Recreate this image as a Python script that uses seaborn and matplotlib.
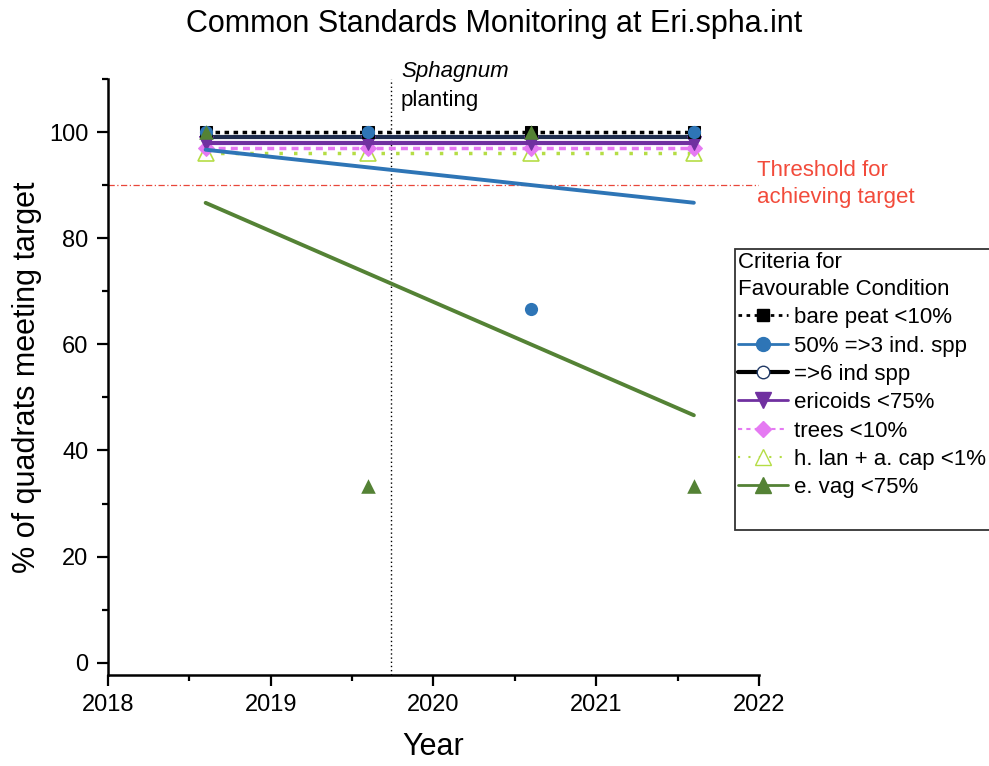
import matplotlib
matplotlib.use("Agg")
import matplotlib.pyplot as plt
from matplotlib.lines import Line2D
from matplotlib.ticker import MultipleLocator
import seaborn as sns

# survey years (mid-year visits)
years = [2018.6, 2019.6, 2020.6, 2021.6]

# % of quadrats meeting each target (constant series are offset in the original for visibility)
bare_peat = [100, 100, 100, 100]
ind_spp_3 = [100, 100, 66.7, 100]
ind_spp_6 = [99, 99, 99, 99]
ericoids = [98, 98, 98, 98]
trees = [97, 97, 97, 97]
hlan_acap = [96, 96, 96, 96]
e_vag = [100, 33.3, 100, 33.3]

labels = ["bare peat <10%", "50% =>3 ind. spp", "=>6 ind spp", "ericoids <75%",
          "trees <10%", "h. lan + a. cap <1%", "e. vag <75%"]

threshold = 90
planting_year = 2019.74

sns.set_theme(style="ticks")
plt.rcParams['font.family'] = ['Liberation Sans', 'DejaVu Sans']
plt.rcParams['text.color'] = 'black'
plt.rcParams['axes.labelcolor'] = 'black'

fig = plt.figure(figsize=(9.89, 7.66), dpi=100)
ax = fig.add_axes([0.1092, 0.1188, 0.6582, 0.7781])

c_blue = "#2E75B6"
c_navy = "#1F2D4F"
c_purple = "#7030A0"
c_pink = "#E57AF2"
c_lime = "#B5DD45"
c_green = "#548235"

# flat series
sns.lineplot(x=years, y=ind_spp_6, ax=ax, color=c_navy, lw=3,
             marker="o", markersize=8, markerfacecolor="white", markeredgecolor="#203864")
sns.lineplot(x=years, y=hlan_acap, ax=ax, color=c_lime, lw=2.5, linestyle=(0, (1, 3.2)),
             marker="^", markersize=11, markerfacecolor="white", markeredgecolor=c_lime,
             markeredgewidth=1.2)
sns.lineplot(x=years, y=trees, ax=ax, color=c_pink, lw=2.5, linestyle=(0, (2, 1.5)),
             marker="D", markersize=8, markeredgecolor=c_pink)
sns.lineplot(x=years, y=ericoids, ax=ax, color=c_purple, lw=3,
             marker="v", markersize=10, markeredgecolor=c_purple)
sns.lineplot(x=years, y=bare_peat, ax=ax, color="black", lw=2.5, linestyle=(0, (1.3, 1.3)),
             marker="s", markersize=8, markeredgecolor="black")

# series with linear fits
sns.regplot(x=years, y=ind_spp_3, ax=ax, ci=None, color=c_blue, marker="o",
            scatter_kws={"s": 90, "alpha": 1, "linewidths": 0, "zorder": 5},
            line_kws={"lw": 2.8})
sns.regplot(x=years, y=e_vag, ax=ax, ci=None, color=c_green, marker="^",
            scatter_kws={"s": 110, "alpha": 1, "linewidths": 0, "zorder": 6},
            line_kws={"lw": 2.8})

# reference lines
ax.axhline(threshold, color="#E8473A", lw=0.9, linestyle=(0, (5, 2, 1, 2)), zorder=1)
ax.axvline(planting_year, color="black", lw=1, linestyle=(0, (1, 2)), zorder=1)

ax.text(planting_year + 0.06, 110.4, "Sphagnum", style="italic", fontsize=16,
        ha="left", va="baseline", clip_on=False)
ax.text(planting_year + 0.06, 104.9, "planting", fontsize=16,
        ha="left", va="baseline", clip_on=False)
ax.text(2021.99, threshold + 0.2, "Threshold for\nachieving target", color="#F24B3B",
        fontsize=16, ha="left", va="center", linespacing=1.38, clip_on=False)

ax.set_xlim(2018, 2022)
ax.set_ylim(-2.3, 110)
ax.xaxis.set_major_locator(MultipleLocator(1))
ax.xaxis.set_minor_locator(MultipleLocator(0.5))
ax.yaxis.set_major_locator(MultipleLocator(20))
ax.yaxis.set_minor_locator(MultipleLocator(10))
ax.set_xticks([2018, 2019, 2020, 2021, 2022])
ax.set_xticklabels(["2018", "2019", "2020", "2021", "2022"])

ax.tick_params(which="major", direction="out", length=8, width=1.6, labelsize=17,
               color="black", labelcolor="black", pad=6)
ax.tick_params(which="minor", direction="out", length=4, width=1.6, color="black")
for side in ["left", "bottom"]:
    ax.spines[side].set_linewidth(1.8)
    ax.spines[side].set_color("black")
sns.despine(ax=ax)

ax.set_xlabel("Year", fontsize=22, labelpad=11)
ax.set_ylabel("% of quadrats meeting target", fontsize=22, labelpad=5)
fig.suptitle("Common Standards Monitoring at Eri.spha.int", fontsize=22, y=0.988)

handles = [
    Line2D([], [], color="black", lw=2, linestyle=(0, (1.3, 1.6)), marker="s", markersize=9),
    Line2D([], [], color=c_blue, lw=2, marker="o", markersize=10),
    Line2D([], [], color="black", lw=3, marker="o", markersize=9,
           markerfacecolor="white", markeredgecolor="#203864"),
    Line2D([], [], color=c_purple, lw=2, marker="v", markersize=11),
    Line2D([], [], color=c_pink, lw=1.5, linestyle=(0, (2, 2)), marker="D", markersize=8),
    Line2D([], [], color=c_lime, lw=1.5, linestyle=(0, (1, 4)), marker="^", markersize=11,
           markerfacecolor="white"),
    Line2D([], [], color=c_green, lw=2, marker="^", markersize=11),
    Line2D([], [], color="none"),
]
leg = fig.legend(handles, labels + [" "], title="Criteria for\nFavourable Condition",
                 loc="upper left", bbox_to_anchor=(0.743, 0.675), fontsize=16,
                 title_fontsize=16, frameon=True, fancybox=False, handlelength=2.25,
                 handletextpad=0.28, labelspacing=0.33, borderpad=0.15, borderaxespad=0,
                 alignment="left")
leg.get_frame().set_edgecolor("black")
leg.get_frame().set_linewidth(1.3)
leg.get_title().set_linespacing(1.35)

fig.savefig("out.png", dpi=100)
